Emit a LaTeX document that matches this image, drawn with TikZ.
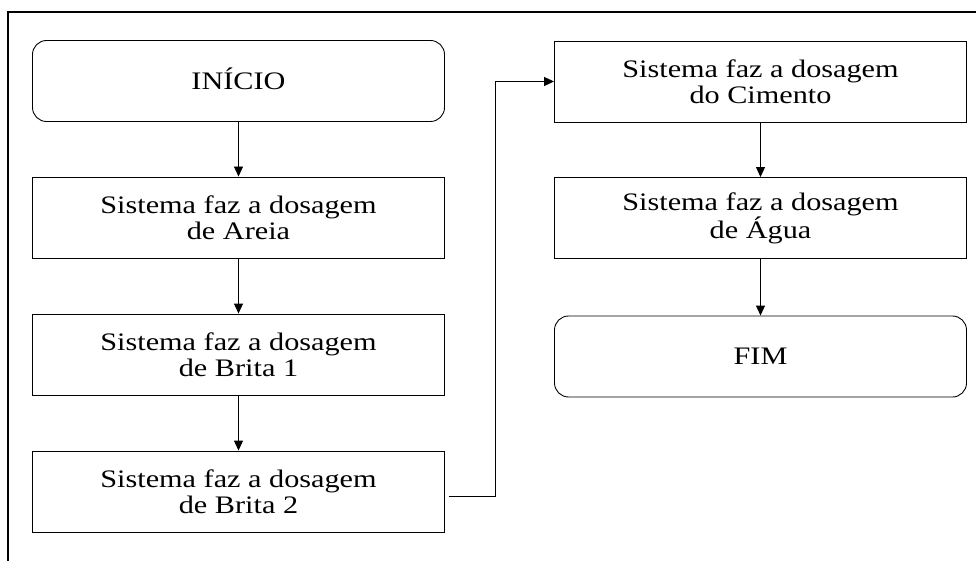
\documentclass[tikz,border=0pt]{standalone}
\usepackage{fontspec}
\setmainfont{Liberation Serif}[FakeStretch=1.2]
\usetikzlibrary{arrows.meta}
\begin{document}
\begin{tikzpicture}[x=1pt,y=-1pt,
  every node/.style={font=\fontsize{25.2}{26}\selectfont},
  stepbox/.style={draw, line width=0.9pt, minimum width=412pt, minimum height=81pt,
                  inner sep=0pt, align=center},
  termbox/.style={stepbox, rounded corners=14pt},
  arr/.style={line width=0.9pt, -{Triangle[length=10pt,width=9pt]}},
  frameline/.style={line width=1.8pt}]
\useasboundingbox (0,0) rectangle (976,561);

% outer frame (top and left edges)
\draw[frameline] (8,561) -- (8,12) -- (976,12);

% left column
\node[termbox] (inicio) at (238.5,81)    {\raisebox{4pt}{INÍCIO}};
\node[stepbox] (areia)  at (238.5,217.5) {Sistema faz a dosagem\\de Areia};
\node[stepbox] (brita1) at (238.5,354.5) {Sistema faz a dosagem\\de Brita 1};
\node[stepbox] (brita2) at (238.5,491.5) {Sistema faz a dosagem\\de Brita 2};

% right column
\node[stepbox] (cimento) at (760.5,81.5) {Sistema faz a dosagem\\do Cimento};
\node[stepbox] (agua)    at (760.5,218)  {Sistema faz a dosagem\\de Água};
\node[termbox] (fim)     at (760.5,356.5) {FIM};

% connectors
\draw[arr] (inicio.south) -- (areia.north);
\draw[arr] (areia.south)  -- (brita1.north);
\draw[arr] (brita1.south) -- (brita2.north);

\coordinate (bend) at (495,0);
\draw[arr] ([xshift=4pt,yshift=-4.5pt]brita2.east) -| (bend |- cimento.west) -- (cimento.west);

\draw[arr] (cimento.south) -- (agua.north);
\draw[arr] (agua.south)    -- (fim.north);
\end{tikzpicture}
\end{document}
